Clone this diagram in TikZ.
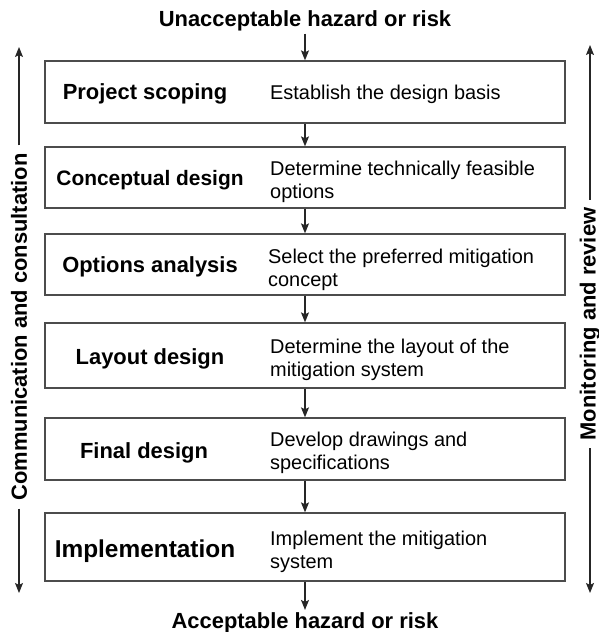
\documentclass[tikz,border=0pt]{standalone}
\usepackage{fontspec}
\setmainfont{Liberation Sans}
\usetikzlibrary{arrows.meta}
\begin{document}
\begin{tikzpicture}[x=1bp,y=-1bp,
  stagebox/.style={draw=black!70,line width=1.3bp,minimum width=520bp,inner sep=0pt},
  stagename/.style={font=\fontsize{22}{26}\selectfont\bfseries,inner sep=0pt,anchor=base},
  stagetext/.style={font=\fontsize{20}{23}\selectfont,inner sep=0pt,anchor=base west,align=left},
  headline/.style={font=\fontsize{22}{26}\selectfont\bfseries,inner sep=2bp,anchor=base},
  sidelabel/.style={font=\fontsize{22}{26}\selectfont\bfseries,rotate=90,inner sep=8bp},
  flow/.style={draw=black!85,line width=1.2bp,-{Stealth[length=10bp,width=8bp,inset=2bp]}}]
\useasboundingbox (0,0) rectangle (599,632);

% stage boxes
\node[stagebox,minimum height=62bp] (b1) at (305,92) {};
\node[stagebox,minimum height=61bp] (b2) at (305,177.5) {};
\node[stagebox,minimum height=61bp] (b3) at (305,264.5) {};
\node[stagebox,minimum height=65bp] (b4) at (305,355.5) {};
\node[stagebox,minimum height=62bp] (b5) at (305,449) {};
\node[stagebox,minimum height=68bp] (b6) at (305,547) {};

% stage names
\node[stagename] (n1) at (145,100) {Project scoping};
\node[stagename,font=\fontsize{21}{25}\selectfont\bfseries] (n2) at (150,186) {Conceptual design};
\node[stagename] (n3) at (150,272) {Options analysis};
\node[stagename] (n4) at (150,364) {Layout design};
\node[stagename] (n5) at (144,458) {Final design};
\node[stagename,font=\fontsize{24.5}{28}\selectfont\bfseries] (n6) at (145,557) {Implementation};

% stage descriptions (base anchor sits on the last line)
\node[stagetext] (d1) at (270,100) {Establish the design basis};
\node[stagetext] (d2) at (270,198) {Determine technically feasible\\options};
\node[stagetext] (d3) at (268,286) {Select the preferred mitigation\\concept};
\node[stagetext] (d4) at (270,376) {Determine the layout of the\\mitigation system};
\node[stagetext] (d5) at (270,469) {Develop drawings and\\specifications};
\node[stagetext] (d6) at (270,568) {Implement the mitigation\\system};

% start and end states
\node[headline] (top) at (305,27) {Unacceptable hazard or risk};
\node[headline] (bottom) at (305,628) {Acceptable hazard or risk};

% main flow
\draw[flow] (top) -- (b1);
\draw[flow] (b1) -- (b2);
\draw[flow] (b2) -- (b3);
\draw[flow] (b3) -- (b4);
\draw[flow] (b4) -- (b5);
\draw[flow] (b5) -- (b6);
\draw[flow] (b6) -- (bottom);

% side processes
\node[sidelabel] (comm) at (19,327) {Communication and consultation};
\node[sidelabel] (mon) at (590,324) {Monitoring and review};
\coordinate (commtop) at (19,47);
\coordinate (commbot) at (19,593);
\coordinate (montop) at (590,45);
\coordinate (monbot) at (590,593);
\draw[flow] (comm) -- (commtop);
\draw[flow] (comm) -- (commbot);
\draw[flow] (mon) -- (montop);
\draw[flow] (mon) -- (monbot);
\end{tikzpicture}
\end{document}
